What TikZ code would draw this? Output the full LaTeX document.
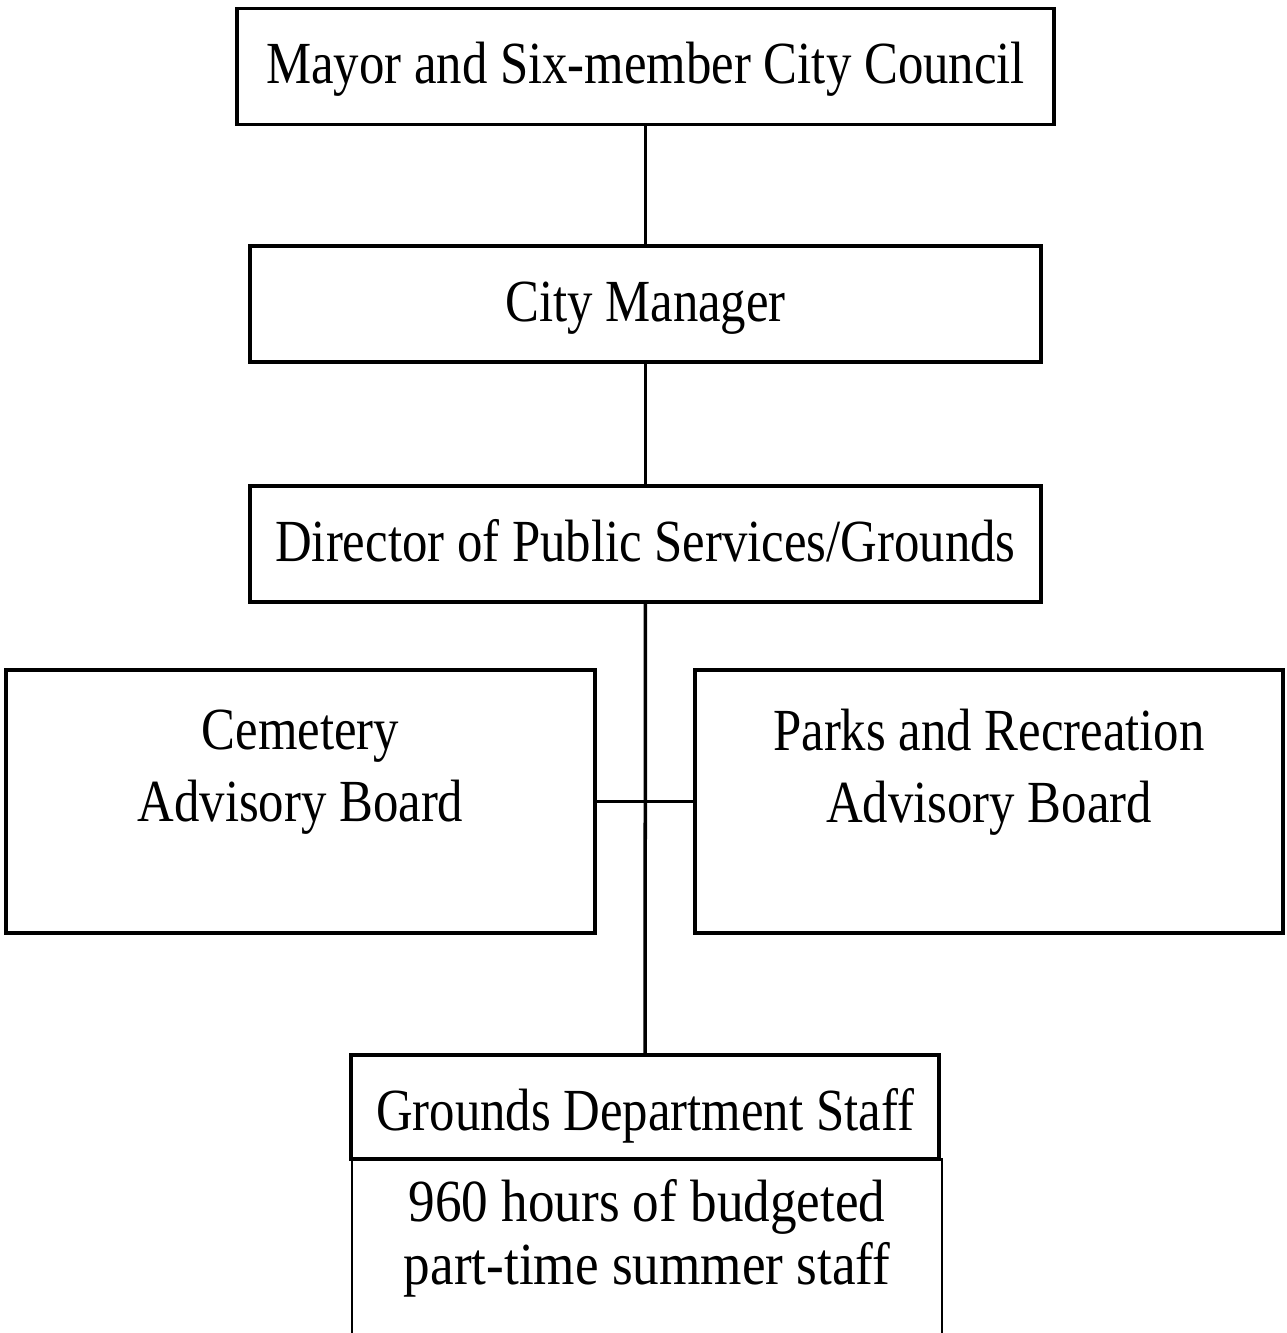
\documentclass[tikz,border=0pt]{standalone}
\usepackage{fontspec}
\setmainfont{Liberation Serif}[FakeStretch=0.85]
\newfontfamily\staffface{Liberation Serif}[FakeStretch=0.89]
\usetikzlibrary{positioning}

\begin{document}
\begin{tikzpicture}[
    box/.style={draw, line width=1pt, minimum width=7.91cm, minimum height=1.16cm,
      text height=0.42cm, text depth=0.08cm, font=\fontsize{17}{20.5}\selectfont},
    board/.style={box, minimum width=5.89cm, minimum height=2.63cm, align=center,
      text height=, text depth=},
    link/.style={line width=1pt}
  ]
    \useasboundingbox (0,0) rectangle (12.86,-13.33);
    \node[box, minimum width=8.17cm] (mayor) at (6.455,-0.665) {Mayor and Six-member City Council};
    \node[box] (manager) at (6.455,-3.04) {City Manager};
    \node[box] (director) at (6.455,-5.44) {Director of Public Services/Grounds};
    \node[board] (cemetery) at (3.005,-8.015) {Cemetery\\Advisory Board\\\mbox{}};
    \node[board, minimum width=5.88cm] (parks) at (9.89,-8.015) {Parks and Recreation\\Advisory Board\\\mbox{}};
    \node[box, minimum width=5.88cm, minimum height=1.04cm, text height=0.52cm, text depth=0.06cm] (grounds) at (6.45,-11.07) {Grounds Department Staff};
    \node[align=center, font=\staffface\fontsize{17}{18}\selectfont] (summer) at (6.47,-12.38) {960 hours of budgeted\\part-time summer staff};
    \draw[line width=0.8pt] (3.52,-13.5) |- (9.42,-11.59) -- (9.42,-13.5);
    \draw[link] (mayor) -- (manager);
    \draw[link] (manager) -- (director);
    \draw[link] (director) -- (grounds);
    \draw[link] (cemetery.east) -- (parks.west);
  \end{tikzpicture}
\end{document}
